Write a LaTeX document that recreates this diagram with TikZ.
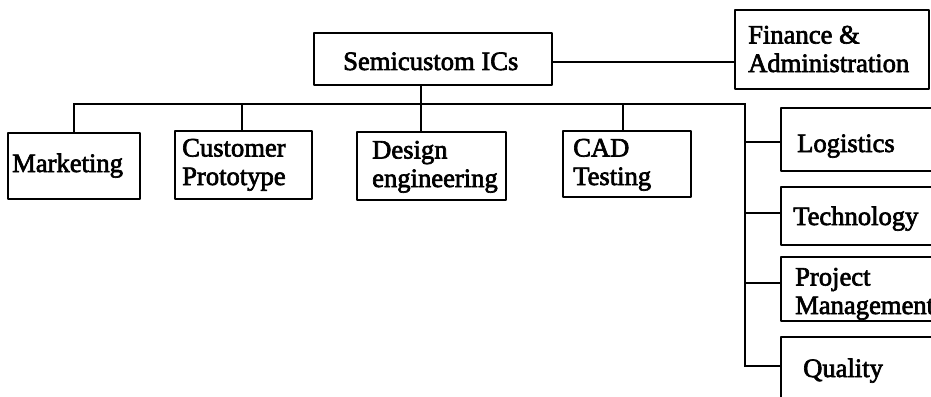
\documentclass[tikz,border=0pt]{standalone}
\usepackage{fontspec}
\setmainfont{Liberation Serif}
\newfontfamily\lblfont{Liberation Serif}[FakeBold=2.5]
\begin{document}
\begin{tikzpicture}[x=1pt,y=-1pt,
  box/.style={draw,line width=2.8pt,line join=round,inner sep=0pt},
  wire/.style={line width=2.6pt,line join=miter},
  lbl/.style={inner sep=0pt,anchor=base west,align=left,
    font=\lblfont\fontsize{26.6}{28.5}\selectfont}]
\useasboundingbox (0,0) rectangle (931,396);
\clip (0,0) rectangle (931,396);
% boxes
\node[box,minimum width=238pt,minimum height=52pt] (semi) at (433,59) {};
\node[box,minimum width=194pt,minimum height=79pt] (fin) at (832,49.5) {};
\node[box,minimum width=132pt,minimum height=66pt] (mkt) at (74,166) {};
\node[box,minimum width=137pt,minimum height=68pt] (cust) at (243.5,165) {};
\node[box,minimum width=149pt,minimum height=68pt] (des) at (431.5,166) {};
\node[box,minimum width=128pt,minimum height=66pt] (cad) at (627,164) {};
\node[box,minimum width=180pt,minimum height=63pt] (log) at (871,139.5) {};
\node[box,minimum width=180pt,minimum height=58pt] (tech) at (871,216) {};
\node[box,minimum width=180pt,minimum height=64pt] (proj) at (871,289) {};
\node[box,minimum width=180pt,minimum height=83pt] (qual) at (871,378.5) {};
% labels (anchored at the baseline of their last line)
\node[lbl] (tsemi) at (343,70) {Semicustom ICs};
\node[lbl] (tfin) at (748,72) {Finance \&\\Administration};
\node[lbl] (tmkt) at (12,172) {Marketing};
\node[lbl] (tcust) at (182,185) {Customer\\Prototype};
\node[lbl] (tdes) at (372,187) {Design\\engineering};
\node[lbl] (tcad) at (573,185) {CAD\\Testing};
\node[lbl] (tlog) at (797,152) {Logistics};
\node[lbl] (ttech) at (793,225) {Technology};
\node[lbl] (tproj) at (795,314) {Project\\Management};
\node[lbl] (tqual) at (803,377) {Quality};
% connector points
\coordinate (busL) at (74,104);
\coordinate (busR) at (745,104);
\coordinate (dDes) at (421,104);
\coordinate (dCad) at (623,104);
\coordinate (dCust) at (242,104);
\coordinate (b1) at (745,142);
\coordinate (b2) at (745,213);
\coordinate (b3) at (745,283);
\coordinate (b4) at (745,366);
\coordinate (fj) at (552,62);
% connectors
\draw[wire] (fj) -- (fj -| fin.west);
\draw[wire] (mkt.north) -- (busL) -- (busR) -- (b4) -- (b4 -| qual.west);
\draw[wire] (dCust) -- (dCust |- cust.north);
\draw[wire] (dDes |- semi.south) -- (dDes |- des.north);
\draw[wire] (dCad) -- (dCad |- cad.north);
\draw[wire] (b1) -- (b1 -| log.west);
\draw[wire] (b2) -- (b2 -| tech.west);
\draw[wire] (b3) -- (b3 -| proj.west);
\end{tikzpicture}
\end{document}
